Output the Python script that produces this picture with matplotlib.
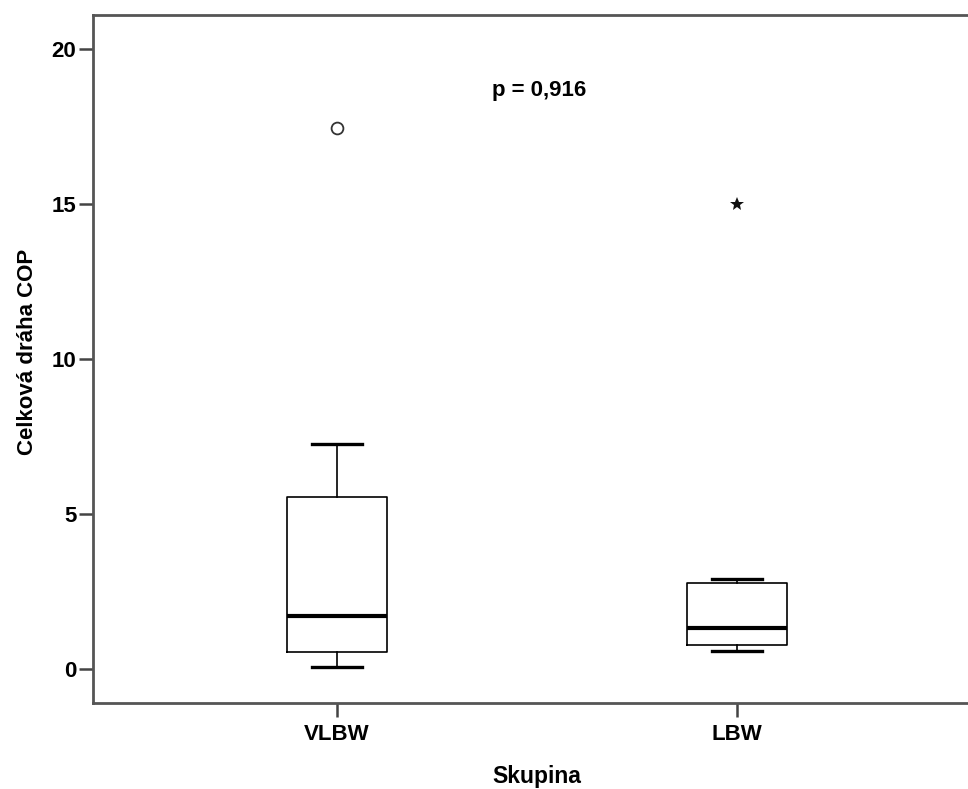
import matplotlib.pyplot as plt

plt.rcParams["font.family"] = ["Liberation Sans", "DejaVu Sans"]

groups = ["VLBW", "LBW"]
whis_low = [0.05, 0.59]
q1 = [0.56, 0.76]
median = [1.70, 1.32]
q3 = [5.55, 2.78]
whis_high = [7.25, 2.89]
outliers = [[17.45], []]      # mild outliers (circle)
extremes = [[], [15.0]]       # extreme outliers (star)
p_text = "p = 0,916"

fig = plt.figure(figsize=(9.68, 7.89), dpi=100)
# axes runs past the right edge of the picture, like the cropped original
ax = fig.add_axes([93 / 968, 1 - 703 / 789, 888 / 968, 688 / 789])

stats = []
for i, g in enumerate(groups):
    stats.append({
        "label": g, "whislo": whis_low[i], "q1": q1[i], "med": median[i],
        "q3": q3[i], "whishi": whis_high[i], "fliers": [],
    })

pos = [1, 2]
ax.bxp(
    stats, positions=pos, widths=0.25, showfliers=False,
    boxprops=dict(color="black", linewidth=1.2),
    medianprops=dict(color="black", linewidth=3),
    whiskerprops=dict(color="black", linewidth=1.2),
    capprops=dict(color="black", linewidth=2.4),
    capwidths=0.125,
)

for i, vals in enumerate(outliers):
    if vals:
        ax.plot([pos[i]] * len(vals), vals, "o", ms=8.5, mfc="white",
                mec="#333333", mew=1.3)
for i, vals in enumerate(extremes):
    if vals:
        ax.plot([pos[i]] * len(vals), vals, "*", ms=10, color="#111111",
                mew=0)

ax.text(1.505, 18.48, p_text, ha="center", va="baseline", fontsize=16,
        fontweight="bold")

ax.set_xlim(0.39, 2.61)
ax.set_ylim(-1.1, 21.1)
ax.set_yticks([0, 5, 10, 15, 20])
ax.set_xticks(pos)
ax.set_xticklabels(groups)
ax.tick_params(labelsize=16, length=10, width=1.8, color="#444444", pad=2)
ax.tick_params(axis="x", pad=5)
for lab in ax.get_xticklabels() + ax.get_yticklabels():
    lab.set_fontweight("bold")
for s in ["left", "bottom", "top"]:
    ax.spines[s].set_color("#555555")
    ax.spines[s].set_linewidth(2)
ax.spines["right"].set_visible(False)

fig.text(537 / 968, 1 - 777 / 789, "Skupina", ha="center", va="center",
         fontsize=16.5, fontweight="bold")
fig.text(28 / 968, 1 - 352 / 789, "Celková dráha COP", ha="center",
         va="center", rotation=90, fontsize=16, fontweight="bold")

fig.savefig("out.png", dpi=100)
